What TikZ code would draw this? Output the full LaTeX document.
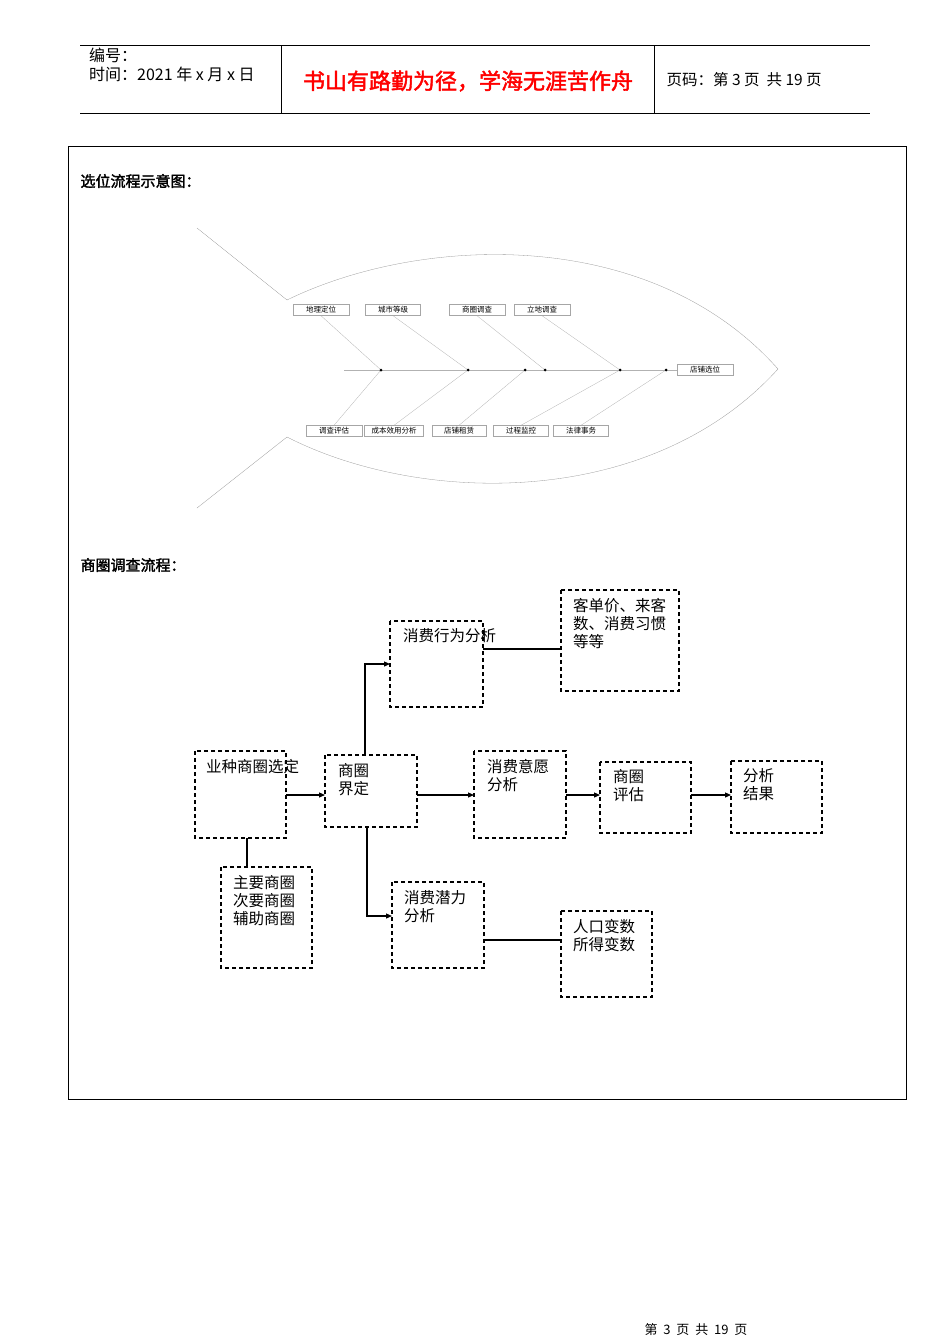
\documentclass[tikz,border=0pt]{standalone}
\usepackage{fontspec}
\setmainfont{Noto Sans CJK SC}[AutoFakeBold=2]
\usetikzlibrary{arrows.meta}
\begin{document}
\begin{tikzpicture}[x=1pt,y=-1pt,
  fb/.style={draw=gray!70,line width=0.4pt,inner sep=0pt,minimum height=11pt,font=\fontsize{7.5}{8}\selectfont},
  bone/.style={draw=gray!60,line width=0.3pt},
  db/.style={draw,dashed,line width=1.2pt,dash pattern=on 4pt off 3pt},
  lbl/.style={anchor=north west,align=left,font=\fontsize{15.5}{18}\selectfont,inner sep=0pt},
  ar/.style={line width=1.2pt,-{Triangle[length=6pt,width=5pt]}},
  ln/.style={line width=1.2pt}]
\useasboundingbox (0,0) rectangle (950,1344);
% header
\draw[line width=0.6pt] (80,45) -- (870,45) (80,113) -- (870,113) (281,45) -- (281,113) (654,45) -- (654,113);
\node[lbl,font=\fontsize{16}{19}\selectfont] (h1) at (89,48) {编号：\\时间：2021 年 x 月 x 日};
\node[text=red,font=\fontsize{22}{24}\selectfont\bfseries] (h2) at (468,81) {书山有路勤为径，学海无涯苦作舟};
\node[anchor=west,font=\fontsize{15.5}{17}\selectfont] (h3) at (663,80) {页码：第 3 页\ \ 共 19 页};
% frame
\draw[line width=0.6pt] (68,146) rectangle (906,1099);
\node[anchor=west,font=\fontsize{15}{16}\selectfont\bfseries] (t1) at (77,181) {选位流程示意图：};
\node[anchor=west,font=\fontsize{15}{16}\selectfont\bfseries] (t2) at (77,565) {商圈调查流程：};
% fish
\draw[bone,draw=gray!80] (287,300) .. controls (420,235) and (650,225) .. (778,369);
\draw[bone,draw=gray!80] (287,437) .. controls (420,505) and (650,510) .. (778,369);
\draw[bone,draw=gray!80] (197,228) -- (287,300) (197,508) -- (287,437);
\node[fb,minimum width=56pt] (head) at (705,370) {店铺选位};
\coordinate (sp0) at (344,370);
\draw[bone] (sp0) -- (head.west);
\node[fb,minimum width=56pt] (u1) at (321,310) {地理定位};
\node[fb,minimum width=55pt] (u2) at (393,310) {城市等级};
\node[fb,minimum width=56pt] (u3) at (477,310) {商圈调查};
\node[fb,minimum width=56pt] (u4) at (542,310) {立地调查};
\node[fb,minimum width=56pt] (d1) at (334,431) {调查评估};
\node[fb,minimum width=59pt] (d2) at (394,431) {成本效用分析};
\node[fb,minimum width=54pt] (d3) at (459,431) {店铺租赁};
\node[fb,minimum width=55pt] (d4) at (521,431) {过程监控};
\node[fb,minimum width=55pt] (d5) at (581,431) {法律事务};
\coordinate (j1) at (381,370); \coordinate (j2) at (468,370); \coordinate (j3) at (545,370);
\coordinate (j4) at (620,370); \coordinate (j5) at (525,370); \coordinate (j6) at (666,370);
\draw[bone] (u1.south) -- (j1) (u2.south) -- (j2) (u3.south) -- (j3) (u4.south) -- (j4);
\draw[bone] (d1.north) -- (j1) (d2.north) -- (j2) (d3.north) -- (j5) (d4.north) -- (j4) (d5.north) -- (j6);
\foreach \p in {j1,j2,j3,j4,j5,j6} \fill (\p) circle (1.5pt);
% flowchart
\draw[db] (195,751) rectangle (286,838); \node[lbl] (A) at (206,759) {业种商圈选定};
\draw[db] (325,755) rectangle (417,827); \node[lbl] (B) at (338,763) {商圈\\界定};
\draw[db] (390,621) rectangle (483,707); \node[lbl] (C) at (403,628) {消费行为分析};
\draw[db] (561,590) rectangle (679,691); \node[lbl] (D) at (573,598) {客单价、来客\\数、消费习惯\\等等};
\draw[db] (474,751) rectangle (566,838); \node[lbl] (E) at (487,759) {消费意愿\\分析};
\draw[db] (600,762) rectangle (691,833); \node[lbl] (F) at (613,769) {商圈\\评估};
\draw[db] (731,761) rectangle (822,833); \node[lbl] (G) at (743,768) {分析\\结果};
\draw[db] (221,867) rectangle (312,968); \node[lbl] (H) at (233,875) {主要商圈\\次要商圈\\辅助商圈};
\draw[db] (392,882) rectangle (484,968); \node[lbl] (I) at (404,890) {消费潜力\\分析};
\draw[db] (561,911) rectangle (652,997); \node[lbl] (J) at (573,919) {人口变数\\所得变数};
\draw[ar] (286,795) -- (325,795);
\draw[ar] (417,795) -- (474,795);
\draw[ar] (566,795) -- (600,795);
\draw[ar] (691,795) -- (731,795);
\draw[ar] (365,755) -- (365,664) -- (390,664);
\draw[ar] (367,827) -- (367,916) -- (392,916);
\draw[ln] (483,649) -- (561,649);
\draw[ln] (484,940) -- (561,940);
\draw[ln] (247,838) -- (247,867);
\node[font=\fontsize{13}{14}\selectfont] (foot) at (696,1330) {第\ \ 3\ \ 页\ \ 共\ \ 19\ \ 页};
\end{tikzpicture}
\end{document}
